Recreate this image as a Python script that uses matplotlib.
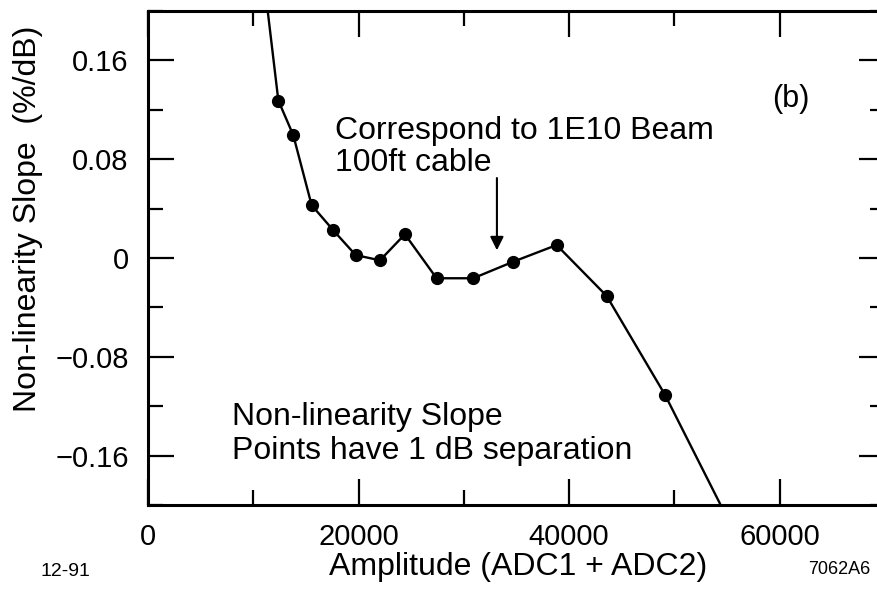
import numpy as np
import matplotlib
matplotlib.use("Agg")
import matplotlib.pyplot as plt
from matplotlib.ticker import MultipleLocator

# points at 1 dB steps, first and last are off the plotted range (line runs out of the frame)
amplitude = [11030, 12380, 13800, 15540, 17600, 19720, 22030, 24400, 27410,
             30890, 34690, 38810, 43560, 49100, 55090]
slope = [0.2244, 0.1275, 0.0994, 0.0428, 0.0224, 0.0024, -0.0019, 0.0192, -0.0164,
         -0.0164, -0.0030, 0.0105, -0.0307, -0.1107, -0.2118]

xticks = [0, 20000, 40000, 60000]
xticklabels = ["0", "20000", "40000", "60000"]
yticks = [-0.16, -0.08, 0, 0.08, 0.16]
yticklabels = ["\u22120.16", "\u22120.08", "0", "0.08", "0.16"]

plt.rcParams['font.family'] = ['Liberation Sans', 'DejaVu Sans']

fig = plt.figure(figsize=(8.78, 6.02), dpi=100)
ax = fig.add_axes([148/878, 97/602, 737/878, 494/602])

ax.plot(amplitude, slope, color='black', lw=1.7, marker='o', ms=8.5,
        mfc='black', mec='black')

ax.set_xlim(0, 70000)
ax.set_ylim(-0.2, 0.2)
ax.set_xticks(xticks)
ax.set_xticklabels(xticklabels)
ax.set_yticks(yticks)
ax.set_yticklabels(yticklabels)
ax.xaxis.set_minor_locator(MultipleLocator(10000))
ax.yaxis.set_minor_locator(MultipleLocator(0.04))

ax.tick_params(which='both', direction='in', top=True, right=True, width=1.6,
               labelsize=21)
ax.tick_params(which='major', length=19)
ax.tick_params(which='minor', length=11)
ax.tick_params(axis='y', pad=14)
ax.tick_params(axis='x', pad=13)
for s in ax.spines.values():
    s.set_linewidth(2.2)

# arrow note
ax.text(17760, 0.0962, "Correspond to 1E10 Beam", fontsize=23,
        ha='left', va='baseline')
ax.text(17760, 0.0703, "100ft cable", fontsize=23, ha='left', va='baseline')
ax.annotate("", xy=(33140, 0.004), xytext=(33140, 0.067),
            arrowprops=dict(arrowstyle='-|>', color='black', lw=1.5,
                            mutation_scale=20))
ax.text(59300, 0.129, "(b)", fontsize=22, ha='left', va='center')

ax.text(7980, -0.135, "Non-linearity Slope", fontsize=23, ha='left',
        va='baseline')
ax.text(7980, -0.1624, "Points have 1 dB separation", fontsize=23, ha='left',
        va='baseline')

fig.text(518/878, 1 - 567/602, "Amplitude (ADC1 + ADC2)", fontsize=23,
         ha='center', va='center')
fig.text(28/878, 1 - 219/602, "Non-linearity Slope  (%/dB)", fontsize=23,
         ha='center', va='center', rotation=90)
fig.text(40/878, 1 - 571/602, "12-91", fontsize=14, ha='left', va='center')
fig.text(808/878, 1 - 569/602, "7062A6", fontsize=13, ha='left', va='center')

fig.savefig("out.png", dpi=100)
